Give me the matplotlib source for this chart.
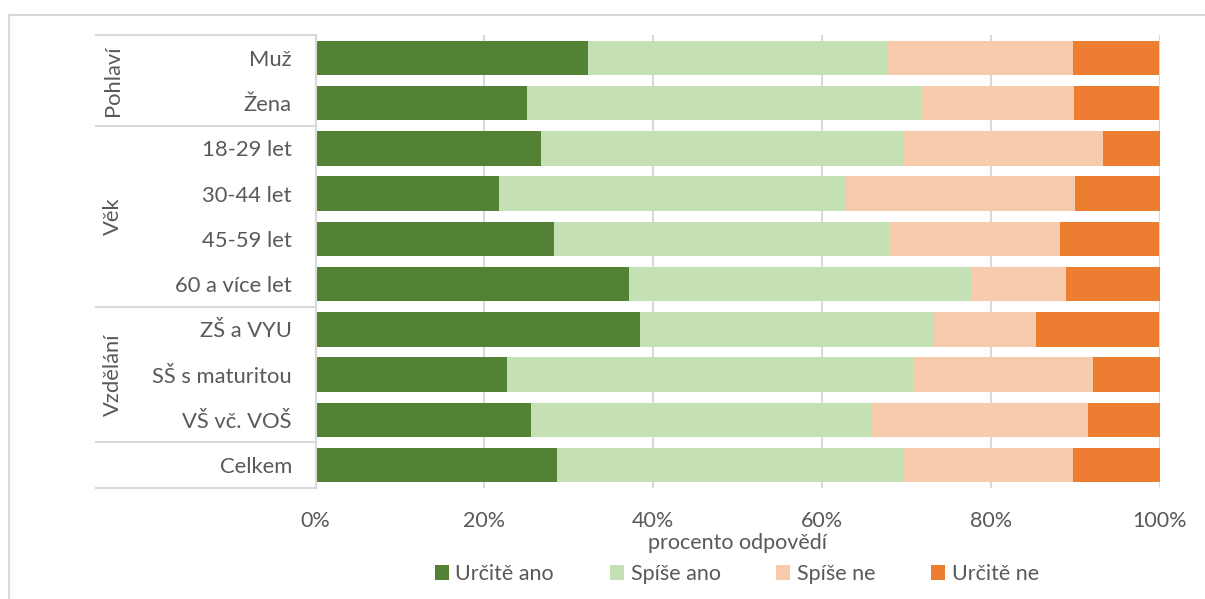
import numpy as np
import matplotlib
matplotlib.use("Agg")
from matplotlib import pyplot as plt
from matplotlib.lines import Line2D

# Data (podíly odpovědí v %)
categories = ["Muž", "Žena", "18-29 let", "30-44 let", "45-59 let",
              "60 a více let", "ZŠ a VYU", "SŠ s maturitou", "VŠ vč. VOŠ", "Celkem"]
series_names = ["Určitě ano", "Spíše ano", "Spíše ne", "Určitě ne"]

urcite_ano = [32.3, 25.1, 26.7, 21.7, 28.3, 37.1, 38.5, 22.7, 25.5, 28.6]
spise_ano = [35.5, 46.6, 43.0, 41.2, 39.7, 40.7, 34.8, 48.1, 40.3, 41.1]
spise_ne = [21.9, 18.2, 23.6, 27.1, 20.2, 11.1, 12.1, 21.3, 25.7, 20.1]
urcite_ne = [10.3, 10.1, 6.7, 10.0, 11.8, 11.1, 14.6, 7.9, 8.5, 10.2]

groups = ["Pohlaví", "Věk", "Vzdělání", ""]
group_sizes = [2, 4, 3, 1]

colors = ["#548235", "#C5E0B4", "#F8CBAD", "#ED7D31"]
text_color = "#595959"
grid_color = "#D9D9D9"

plt.rcParams['font.family'] = ['Lato', 'DejaVu Sans']

W, H = 1205, 599
fig = plt.figure(figsize=(W / 100, H / 100), dpi=100)

# rámeček grafu
fig.add_artist(Line2D([9 / W, 9 / W], [0, 1 - 15 / H], color=grid_color, lw=1.5))
fig.add_artist(Line2D([9 / W, 1], [1 - 15 / H, 1 - 15 / H], color=grid_color, lw=1.5))

left, right = 315.5, 1159.5
top, bottom = 35.3, 487.7
ax = fig.add_axes([left / W, 1 - bottom / H, (right - left) / W, (bottom - top) / H])

y = np.arange(len(categories))
values = [urcite_ano, spise_ano, spise_ne, urcite_ne]
start = np.zeros(len(categories))
for name, vals, c in zip(series_names, values, colors):
    vals = np.array(vals)
    ax.barh(y, vals, left=start, height=0.76, color=c, label=name, zorder=2)
    start += vals

ax.set_xlim(0, 100)
ax.set_ylim(len(categories) - 0.5, -0.5)
ax.set_xticks(np.arange(0, 101, 20))
ax.set_xticklabels([f"{v}%" for v in range(0, 101, 20)])
ax.set_yticks(y)
ax.set_yticklabels(categories)
ax.tick_params(axis='both', length=0, colors=text_color)
ax.tick_params(axis='y', labelsize=15.8, pad=17)
ax.tick_params(axis='x', labelsize=15.5, pad=17)
ax.xaxis.grid(True, color=grid_color, lw=1.5, zorder=0)
ax.set_axisbelow(True)
for s in ["top", "right", "bottom"]:
    ax.spines[s].set_visible(False)
ax.spines["left"].set_color(grid_color)
ax.spines["left"].set_linewidth(1.5)

ax.set_xlabel("procento odpovědí", fontsize=15.5, color=text_color, labelpad=1)

# skupiny kategorií
trans = ax.get_yaxis_transform()
x_sep = (96 - left) / (right - left)
x_grp = (113 - left) / (right - left)
pos = -0.5
ax.add_line(Line2D([x_sep, 0], [pos, pos], transform=trans, color=grid_color,
                   lw=1.5, clip_on=False))
for g, n in zip(groups, group_sizes):
    mid = pos + n / 2
    pos += n
    ax.add_line(Line2D([x_sep, 0], [pos, pos], transform=trans, color=grid_color,
                       lw=1.5, clip_on=False))
    if g:
        ax.text(x_grp, mid, g, transform=trans, rotation=90, ha='center', va='center',
                fontsize=15.8, color=text_color)

leg = fig.legend(loc='center', bbox_to_anchor=(737 / W, 1 - 574 / H), ncol=4,
                 frameon=False, fontsize=15.5, handlelength=0.65, handleheight=0.65,
                 handletextpad=0.3, columnspacing=2.6, labelcolor=text_color)

fig.savefig("out.png", dpi=100)
